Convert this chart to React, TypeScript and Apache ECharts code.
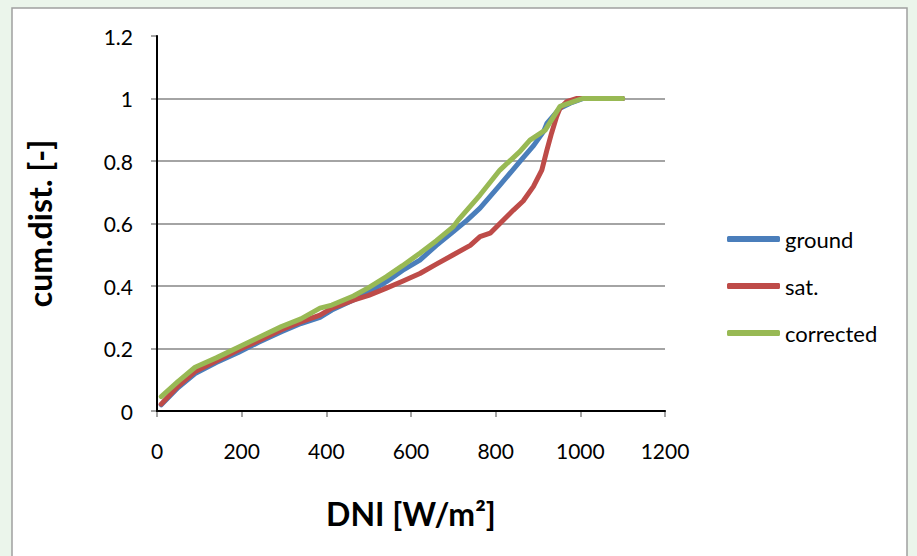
import React, { useEffect, useRef } from "react";
import * as echarts from "echarts";

const xTicksMax = 1200;
const yTicksMax = 1.2;

const groundDNI = [10, 50, 90, 140, 192, 240, 294, 340, 385, 413, 464, 500, 542, 580, 621, 660, 700, 732, 763, 810, 857, 890, 913, 921, 952, 976, 1007, 1100];
const groundCum = [0.02, 0.075, 0.12, 0.155, 0.187, 0.22, 0.254, 0.28, 0.3, 0.323, 0.355, 0.38, 0.414, 0.45, 0.483, 0.53, 0.574, 0.61, 0.649, 0.723, 0.798, 0.85, 0.894, 0.92, 0.969, 0.985, 1.0, 1.0];

const satDNI = [10, 50, 90, 140, 192, 240, 294, 340, 385, 413, 464, 500, 542, 580, 621, 660, 700, 740, 763, 787, 810, 842, 865, 889, 909, 921, 932, 944, 952, 968, 992, 1100];
const satCum = [0.022, 0.08, 0.126, 0.16, 0.195, 0.225, 0.26, 0.285, 0.307, 0.329, 0.355, 0.37, 0.393, 0.415, 0.44, 0.47, 0.5, 0.53, 0.558, 0.569, 0.6, 0.643, 0.672, 0.718, 0.771, 0.835, 0.889, 0.942, 0.969, 0.99, 1.0, 1.0];

const corrDNI = [10, 50, 90, 140, 192, 240, 294, 340, 385, 413, 464, 500, 542, 580, 621, 660, 700, 711, 763, 810, 857, 881, 917, 952, 984, 1005, 1100];
const corrCum = [0.046, 0.095, 0.14, 0.17, 0.204, 0.235, 0.27, 0.295, 0.329, 0.339, 0.368, 0.395, 0.43, 0.465, 0.505, 0.545, 0.59, 0.61, 0.691, 0.771, 0.83, 0.867, 0.899, 0.975, 0.99, 1.0, 1.0];

const seriesNames = ["ground", "sat.", "corrected"];
const seriesColors = ["#4a7ebb", "#be4b48", "#98b954"];

const zip = (xs: number[], ys: number[]) => xs.map((x, i) => [x, ys[i]]);

const FONT = "Lato, 'Noto Sans', sans-serif";

export default function App() {
  const ref = useRef<HTMLDivElement>(null);
  useEffect(() => {
    document.body.style.margin = "0";
    const chart = echarts.init(ref.current!, null, { renderer: "svg" });
    const datasets = [zip(groundDNI, groundCum), zip(satDNI, satCum), zip(corrDNI, corrCum)];
    chart.setOption({
      animation: false,
      backgroundColor: "#ebf5eb",
      textStyle: { fontFamily: FONT },
      graphic: [
        {
          type: "rect",
          z: -10,
          silent: true,
          shape: { x: 12, y: 8, width: 895, height: 570 },
          style: { fill: "#ffffff", stroke: "#a0a0a0", lineWidth: 1.5 },
        },
      ],
      grid: { left: 157, right: 252, top: 36, bottom: 145, containLabel: false },
      legend: {
        orient: "vertical",
        left: 722,
        top: 223,
        itemWidth: 53,
        itemHeight: 6,
        itemGap: 25,
        icon: "roundRect",
        data: seriesNames,
        textStyle: { fontFamily: FONT, fontSize: 22, color: "#000" },
      },
      xAxis: [
        {
          type: "value",
          min: 0,
          max: xTicksMax,
          interval: 200,
          name: "DNI [W/m²]",
          nameLocation: "middle",
          nameGap: 86,
          nameTextStyle: { fontFamily: FONT, fontSize: 32, fontWeight: "bold", color: "#000" },
          axisLine: { show: true, lineStyle: { color: "#868686", width: 1.5 } },
          axisTick: { show: true, length: 6, lineStyle: { color: "#868686", width: 1.5 } },
          axisLabel: {
            margin: 29,
            fontSize: 21,
            color: "#000",
            fontFamily: FONT,
            formatter: (v: number) => String(v),
          },
          splitLine: { show: false },
        },
        {
          type: "value",
          position: "top",
          min: 0,
          max: xTicksMax,
          interval: 200,
          z: 10,
          axisLine: { show: true, lineStyle: { color: "#000", width: 2 } },
          axisTick: { show: false },
          axisLabel: { show: false },
          splitLine: { show: false },
        },
      ],
      yAxis: [
        {
          type: "value",
          min: 0,
          max: yTicksMax,
          interval: 0.2,
          name: "cum.dist. [-]",
          nameLocation: "middle",
          nameGap: 102,
          nameTextStyle: { fontFamily: FONT, fontSize: 32, fontWeight: "bold", color: "#000" },
          axisLine: { show: true, lineStyle: { color: "#868686", width: 1.5 } },
          axisTick: { show: true, length: 6, lineStyle: { color: "#868686", width: 1.5 } },
          axisLabel: { margin: 24, fontSize: 21, color: "#000", fontFamily: FONT },
          splitLine: { show: true, showMaxLine: false, lineStyle: { color: "#868686", width: 1.5 } },
        },
        {
          type: "value",
          position: "right",
          min: 0,
          max: yTicksMax,
          interval: 0.2,
          z: 10,
          axisLine: { show: true, lineStyle: { color: "#000", width: 2 } },
          axisTick: { show: false },
          axisLabel: { show: false },
          splitLine: { show: false },
        },
      ],
      series: seriesNames.map((name, i) => ({
        name,
        type: "line",
        xAxisIndex: 0,
        yAxisIndex: 0,
        data: datasets[i],
        symbol: "none",
        smooth: false,
        color: seriesColors[i],
        lineStyle: { color: seriesColors[i], width: 5, cap: "round", join: "round" },
      })),
    });
    return () => chart.dispose();
  }, []);
  return <div ref={ref} style={{ width: 917, height: 556 }} />;
}
